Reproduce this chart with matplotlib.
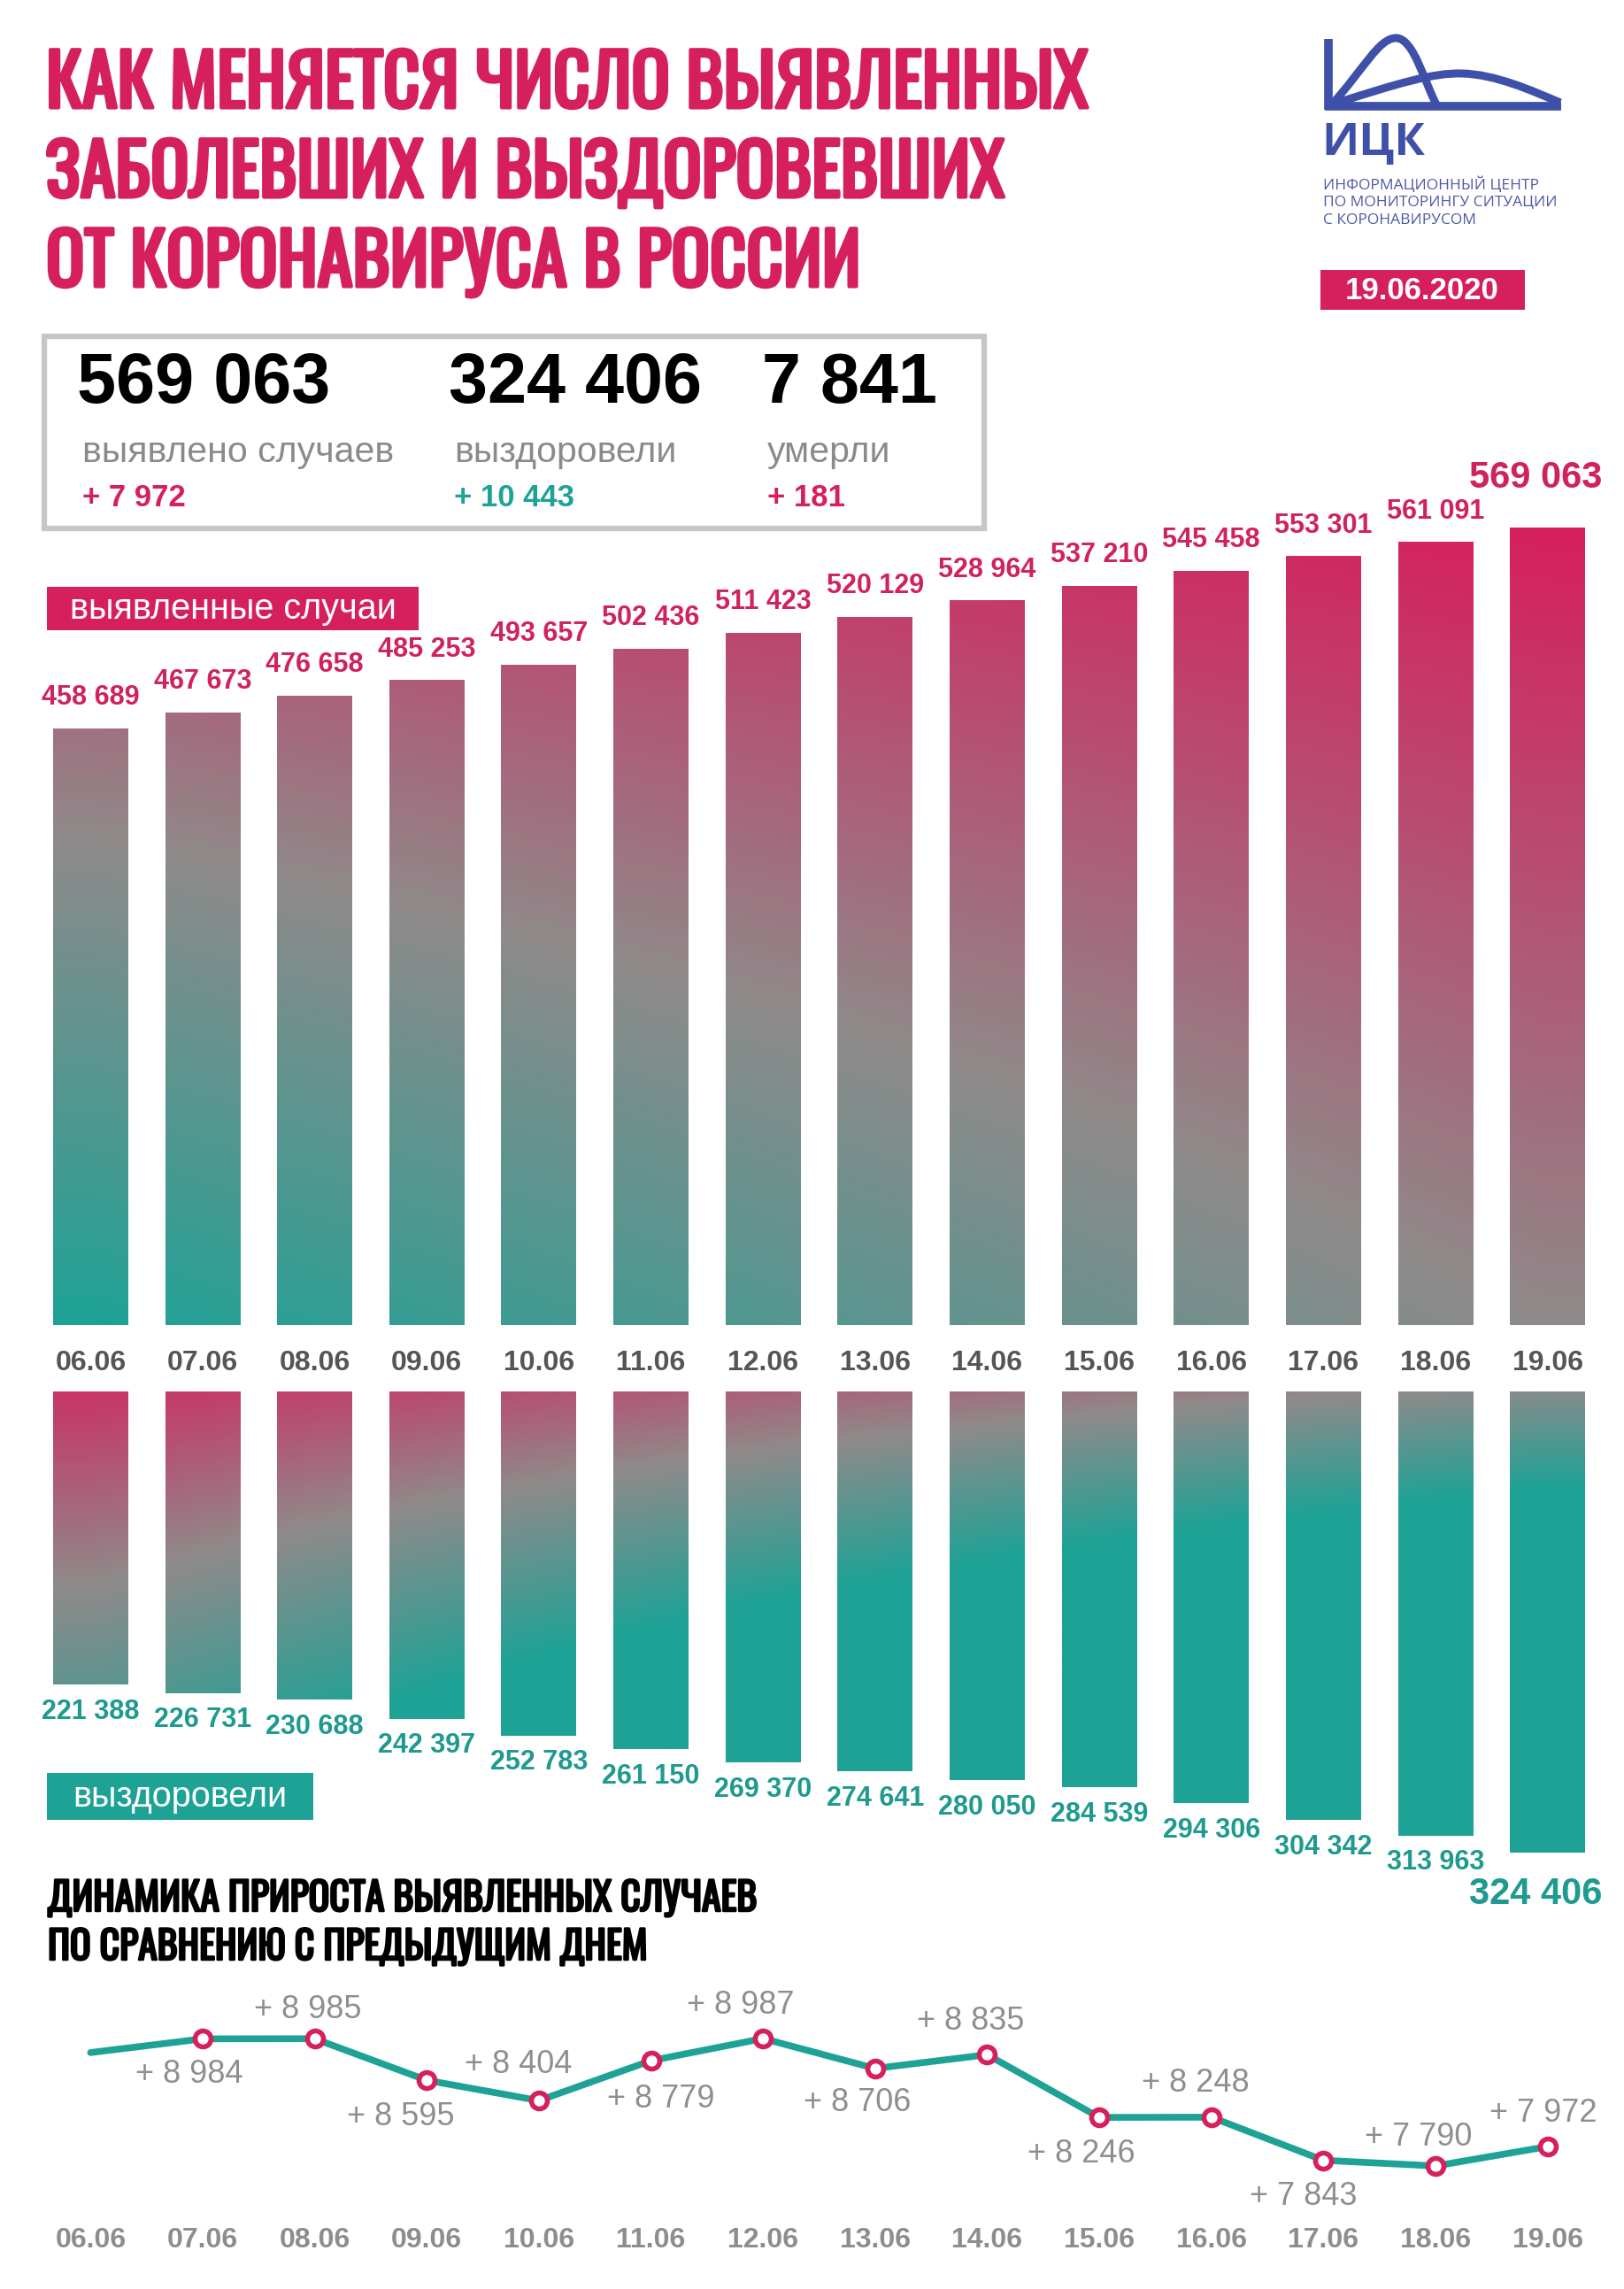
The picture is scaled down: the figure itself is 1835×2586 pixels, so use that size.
import numpy as np
import matplotlib
matplotlib.use("Agg")
import matplotlib.pyplot as plt
import matplotlib.patheffects as pe
from matplotlib.colors import LinearSegmentedColormap
from matplotlib.patches import Rectangle, PathPatch
from matplotlib.path import Path

# ---- data ----
dates = ['06.06', '07.06', '08.06', '09.06', '10.06', '11.06', '12.06',
         '13.06', '14.06', '15.06', '16.06', '17.06', '18.06', '19.06']
cases = [458689, 467673, 476658, 485253, 493657, 502436, 511423,
         520129, 528964, 537210, 545458, 553301, 561091, 569063]
recovered = [221388, 226731, 230688, 242397, 252783, 261150, 269370,
             274641, 280050, 284539, 294306, 304342, 313963, 324406]
daily_new = [8855, 8984, 8985, 8595, 8404, 8779, 8987,
             8706, 8835, 8246, 8248, 7843, 7790, 7972]
total_cases = 569063
total_recovered = 324406
total_deaths = 7841
delta_cases = 7972
delta_recovered = 10443
delta_deaths = 181
report_date = '19.06.2020'

MAG = '#d6205e'
TEAL = '#1ea296'
MID = '#8f8a8a'
BLUE = '#3f50a8'

TITLE_FONT = ['Oswald', 'Liberation Sans Narrow', 'DejaVu Sans']
NUM_FONT = ['Liberation Sans', 'DejaVu Sans']
LOGO_FONT = ['Open Sans', 'DejaVu Sans']

W, H = 1835, 2586
fig = plt.figure(figsize=(W / 100, H / 100), dpi=100)
fig.patch.set_facecolor('white')

# background axes in pixel coordinates (y down)
bg = fig.add_axes([0, 0, 1, 1])
bg.set_xlim(0, W)
bg.set_ylim(H, 0)
bg.axis('off')


def px_axes(left, top, width, height):
    a = fig.add_axes([left / W, 1 - (top + height) / H, width / W, height / H])
    a.set_facecolor('none')
    a.axis('off')
    return a


def fmt(v):
    return f'{v:,}'.replace(',', ' ')


# ---- title ----
for i, line in enumerate(['КАК МЕНЯЕТСЯ ЧИСЛО ВЫЯВЛЕННЫХ',
                          'ЗАБОЛЕВШИХ И ВЫЗДОРОВЕВШИХ',
                          'ОТ КОРОНАВИРУСА В РОССИИ']):
    bg.text(52, 97 + i * 101, line, color=MAG, fontsize=58, fontweight='bold',
            family=TITLE_FONT, ha='left', va='center',
            path_effects=[pe.withStroke(linewidth=3, foreground=MAG)])

# ---- logo ----
bg.plot([1501, 1501], [44, 124], color=BLUE, lw=7, solid_capstyle='butt')
bg.plot([1497, 1764], [120, 120], color=BLUE, lw=7, solid_capstyle='butt')
bell = Path([(1503, 120), (1540, 80), (1558, 42), (1578, 43),
             (1598, 44), (1610, 95), (1624, 120)],
            [Path.MOVETO, Path.CURVE4, Path.CURVE4, Path.CURVE4,
             Path.CURVE4, Path.CURVE4, Path.CURVE4])
hill = Path([(1505, 118), (1580, 94), (1620, 82), (1652, 83),
             (1690, 84), (1730, 102), (1763, 116)],
            [Path.MOVETO, Path.CURVE4, Path.CURVE4, Path.CURVE4,
             Path.CURVE4, Path.CURVE4, Path.CURVE4])
for p in (bell, hill):
    bg.add_patch(PathPatch(p, facecolor='none', edgecolor=BLUE, lw=6.5))
bg.text(1493, 162, 'ИЦК', color=BLUE, fontsize=37, fontweight='bold',
        family=LOGO_FONT, ha='left', va='center')
for i, line in enumerate(['ИНФОРМАЦИОННЫЙ ЦЕНТР', 'ПО МОНИТОРИНГУ СИТУАЦИИ',
                          'С КОРОНАВИРУСОМ']):
    bg.text(1495, 209 + i * 20, line, color='#4b5aa6', fontsize=12.5,
            family=LOGO_FONT, ha='left', va='center')
bg.add_patch(Rectangle((1492, 305), 231, 45, color=MAG, lw=0))
bg.text(1607, 328, report_date, color='white', fontsize=25, fontweight='bold',
        family=NUM_FONT, ha='center', va='center')

# ---- summary box ----
bg.add_patch(Rectangle((50, 380), 1062, 217, facecolor='white',
                       edgecolor='#c6c6c6', lw=4.5))
cols = [(87, total_cases, delta_cases, 'выявлено случаев', MAG),
        (507, total_recovered, delta_recovered, 'выздоровели', TEAL),
        (861, total_deaths, delta_deaths, 'умерли', MAG)]
for x, tot, d, lab, c in cols:
    bg.text(x, 434, fmt(tot), color='black', fontsize=57, fontweight='bold',
            family=NUM_FONT, ha='left', va='center')
    bg.text(x + 6, 511, lab, color='#8a8a8a', fontsize=29.5,
            family=NUM_FONT, ha='left', va='center')
    bg.text(x + 6, 562, '+ ' + fmt(d), color=c, fontsize=25, fontweight='bold',
            family=NUM_FONT, ha='left', va='center')

# ---- gradient colormap ----
cmap = LinearSegmentedColormap.from_list('tm', [(0, TEAL), (0.5, MID), (1, MAG)])
n = len(dates)
xpos = np.arange(n)
AX_L, AX_W = 39, 1773
bar_w = 0.67

# ---- upper chart: detected cases ----
up_top, up_bot = 560, 1497
ax1 = px_axes(AX_L, up_top, AX_W, up_bot - up_top)
base1 = 130964
ax1.set_xlim(-0.5, n - 0.5)
ax1.set_ylim(base1, 586568)
bars1 = ax1.bar(xpos, np.array(cases) - base1, bottom=base1, width=bar_w,
                color='none', lw=0)
gx, gy = np.meshgrid(np.linspace(-0.5, n - 0.5, 300), np.linspace(base1, 586568, 300))
xn = np.clip(gx / (n - 1), 0, 1)
yn = np.clip((gy - base1) / (max(cases) - base1), 0, 1)
t1 = np.clip(0.5 * xn + (0.82 - 0.32 * xn) * yn, 0, 1)
for b in bars1:
    im = ax1.imshow(t1, cmap=cmap, vmin=0, vmax=1, origin='lower', aspect='auto',
                    extent=(-0.5, n - 0.5, base1, 586568), interpolation='bilinear')
    im.set_clip_path(b)
for i, v in enumerate(cases[:-1]):
    ax1.annotate(fmt(v), (i, v), xytext=(0, 25), textcoords='offset points',
                 ha='center', va='center', color='#d0225c', fontsize=22,
                 fontweight='bold', family=NUM_FONT)
ax1.annotate(fmt(cases[-1]), (n - 1, cases[-1]), xytext=(-10, 40),
             textcoords='offset points', ha='center', va='center', color='#d0225c',
             fontsize=30, fontweight='bold', family=NUM_FONT)
for i, d in enumerate(dates):
    ax1.annotate(d, (i, 0), xycoords=('data', 'axes fraction'), xytext=(0, -31),
                 textcoords='offset points', ha='center', va='center',
                 color='#555555', fontsize=23, fontweight='bold', family=NUM_FONT)

bg.add_patch(Rectangle((53, 663), 420, 49, color=MAG, lw=0))
bg.text(263, 688, 'выявленные случаи', color='white', fontsize=28.5,
        family=NUM_FONT, ha='center', va='center')

# ---- lower chart: recovered ----
lo_top, lo_bot = 1572, 2110
ax2 = px_axes(AX_L, lo_top, AX_W, lo_bot - lo_top)
base2 = 41916
ax2.set_xlim(-0.5, n - 0.5)
ax2.set_ylim(333624, base2)
bars2 = ax2.bar(xpos, np.array(recovered) - base2, bottom=base2, width=bar_w,
                color='none', lw=0)
gx, gy = np.meshgrid(np.linspace(-0.5, n - 0.5, 300), np.linspace(base2, 333624, 300))
xn = np.clip(gx / (n - 1), 0, 1)
yd = np.clip((gy - base2) / (max(recovered) - base2), 0, 1)
t2 = np.clip(0.9 - 0.45 * xn - yd * (0.95 + 1.2 * xn), 0, 1)
for b in bars2:
    im = ax2.imshow(t2, cmap=cmap, vmin=0, vmax=1, origin='lower', aspect='auto',
                    extent=(-0.5, n - 0.5, base2, 333624), interpolation='bilinear')
    im.set_clip_path(b)
for i, v in enumerate(recovered[:-1]):
    ax2.annotate(fmt(v), (i, v), xytext=(0, -22), textcoords='offset points',
                 ha='center', va='center', color='#1f9a8e', fontsize=22,
                 fontweight='bold', family=NUM_FONT)
ax2.annotate(fmt(recovered[-1]), (n - 1, recovered[-1]), xytext=(-10, -34),
             textcoords='offset points', ha='center', va='center', color='#1f9a8e',
             fontsize=30, fontweight='bold', family=NUM_FONT)

bg.add_patch(Rectangle((53, 2003), 301, 53, color=TEAL, lw=0))
bg.text(203, 2030, 'выздоровели', color='white', fontsize=28.5,
        family=NUM_FONT, ha='center', va='center')

# ---- daily growth line ----
for i, line in enumerate(['ДИНАМИКА ПРИРОСТА ВЫЯВЛЕННЫХ СЛУЧАЕВ',
                          'ПО СРАВНЕНИЮ С ПРЕДЫДУЩИМ ДНЕМ']):
    bg.text(54, 2145 + i * 55, line, color='black', fontsize=31.5,
            fontweight='bold', family=TITLE_FONT, ha='left', va='center',
            path_effects=[pe.withStroke(linewidth=1.8, foreground='black')])

ax3 = px_axes(AX_L, 2250, AX_W, 250)
ax3.set_xlim(-0.5, n - 0.5)
ax3.set_ylim(7349, 9428)
ax3.plot(xpos, daily_new, color=TEAL, lw=5.5, solid_capstyle='round', zorder=2)
ax3.plot(xpos[1:], daily_new[1:], ls='none', marker='o', ms=13, mew=4,
         mfc='white', mec=MAG, zorder=3)
# label offsets in pixels (dx, dy with dy > 0 meaning below the point)
lab_dx = [0, -15, -8, -30, -23, 11, -25, -20, -19, -20, -18, -23, -19, -5]
lab_dy = [0, 40, -33, 41, -41, 43, -38, 39, -38, 41, -38, 41, -32, -38]
for i in range(1, n):
    ax3.annotate('+ ' + fmt(daily_new[i]), (i, daily_new[i]),
                 xytext=(lab_dx[i] * 0.72, -lab_dy[i] * 0.72),
                 textcoords='offset points', ha='center', va='center',
                 color='#8e8e8e', fontsize=26, family=NUM_FONT)
for i, d in enumerate(dates):
    ax3.annotate(d, (i, 0), xycoords=('data', 'axes fraction'), xytext=(0, -22),
                 textcoords='offset points', ha='center', va='center',
                 color='#8d8d8d', fontsize=23, fontweight='bold', family=NUM_FONT)

fig.savefig('out.png', dpi=100, facecolor='white')
